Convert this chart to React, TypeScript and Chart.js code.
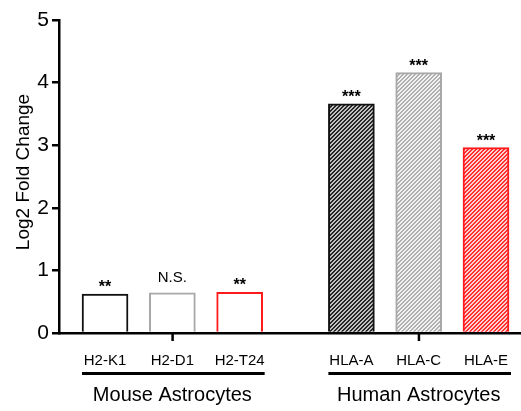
import React, { useEffect, useRef } from "react";
import { Chart, registerables } from "chart.js";

Chart.register(...registerables);

// ---- data ----
const categories = ["H2-K1", "H2-D1", "H2-T24", "HLA-A", "HLA-C", "HLA-E"];
const log2FoldChange = [0.62, 0.64, 0.65, 3.66, 4.16, 2.96];
const significance = ["**", "N.S.", "**", "***", "***", "***"];
const xPositions = [1, 2, 3, 4.66, 5.66, 6.66];
const groups = ["Mouse Astrocytes", "Human Astrocytes"];
const groupMembers = [[0, 1, 2], [3, 4, 5]];
const yTicks = [0, 1, 2, 3, 4, 5];

const FONT = "'Liberation Sans', Arial, sans-serif";

function makePattern(bg: string, fg: string): CanvasPattern | string {
  const c = document.createElement("canvas");
  c.width = 4;
  c.height = 4;
  const ctx = c.getContext("2d");
  if (!ctx) return bg;
  for (let x = 0; x < 4; x++) {
    for (let y = 0; y < 4; y++) {
      ctx.fillStyle = (x + y) % 4 < 2 ? fg : bg;
      ctx.fillRect(x, y, 1, 1);
    }
  }
  return ctx.createPattern(c, "repeat") || bg;
}

export default function App() {
  const ref = useRef<HTMLCanvasElement | null>(null);

  useEffect(() => {
    if (!ref.current) return;
    const fills = [
      "#ffffff",
      "#ffffff",
      "#ffffff",
      makePattern("#c0c0c0", "#262626"),
      makePattern("#f2f2f2", "#b0b0b0"),
      makePattern("#ffd0d0", "#ff3030"),
    ];
    const borders = ["#111111", "#a8a8a8", "#ff1a1a", "#111111", "#a8a8a8", "#ff1a1a"];

    const overlay = {
      id: "overlay",
      afterDraw(chart: any) {
        const ctx = chart.ctx;
        const xs = chart.scales.x;
        const ys = chart.scales.y;
        const area = chart.chartArea;
        ctx.save();
        ctx.fillStyle = "#000";
        ctx.textAlign = "center";
        ctx.textBaseline = "alphabetic";
        // significance labels
        log2FoldChange.forEach((v, i) => {
          const px = xs.getPixelForValue(xPositions[i]);
          const py = ys.getPixelForValue(v);
          const s = significance[i];
          if (s.startsWith("*")) {
            ctx.font = `bold 16px ${FONT}`;
            ctx.fillText(s, px, py - 2);
          } else {
            ctx.font = `15px ${FONT}`;
            ctx.fillText(s, px, py - 11);
          }
        });
        // group ticks, underline and labels
        groupMembers.forEach((members, g) => {
          const first = xs.getPixelForValue(xPositions[members[0]]);
          const last = xs.getPixelForValue(xPositions[members[members.length - 1]]);
          const mid = xs.getPixelForValue(xPositions[members[Math.floor(members.length / 2)]]);
          ctx.fillRect(mid - 1, area.bottom, 2.5, 8);
          ctx.fillRect(first - 23, area.bottom + 39, last - first + 48, 3);
          ctx.font = `20px ${FONT}`;
          ctx.textBaseline = "middle";
          ctx.fillText(groups[g], mid, area.bottom + 62);
          ctx.textBaseline = "alphabetic";
        });
        // y title
        ctx.translate(24, 172);
        ctx.rotate(-Math.PI / 2);
        ctx.font = `19px ${FONT}`;
        ctx.textBaseline = "middle";
        ctx.fillText("Log2 Fold Change", 0, 0);
        ctx.restore();
      },
    };

    const chart = new Chart(ref.current, {
      type: "bar",
      data: {
        datasets: [
          {
            data: log2FoldChange.map((v, i) => ({ x: xPositions[i], y: v })),
            backgroundColor: fills as any,
            borderColor: borders,
            borderWidth: 2,
            barThickness: 46,
          },
        ],
      },
      options: {
        responsive: false,
        animation: false,
        layout: { padding: { top: 20, right: 0, left: 0, bottom: 0 } },
        plugins: { legend: { display: false }, tooltip: { enabled: false } },
        scales: {
          x: {
            type: "linear",
            offset: false,
            min: 0.316,
            max: 7.18,
            grid: { display: false },
            border: { display: true, color: "#000", width: 2.5 },
            afterBuildTicks: (scale: any) => {
              scale.ticks = xPositions.map((v) => ({ value: v }));
            },
            afterFit: (scale: any) => {
              scale.height = 78;
            },
            ticks: {
              autoSkip: false,
              maxRotation: 0,
              padding: 11,
              color: "#000",
              font: { family: FONT, size: 15 },
              callback: (value: any) => {
                const idx = xPositions.indexOf(Number(value));
                return idx >= 0 ? categories[idx] : "";
              },
            },
          },
          y: {
            min: 0,
            max: 5,
            afterBuildTicks: (scale: any) => {
              scale.ticks = yTicks.map((v) => ({ value: v }));
            },
            afterFit: (scale: any) => {
              scale.width = 59;
            },
            grid: {
              display: true,
              drawOnChartArea: false,
              drawTicks: true,
              tickLength: 7,
              color: "#000",
              lineWidth: 2.5,
            },
            border: { display: true, color: "#000", width: 2.5 },
            ticks: {
              padding: 3,
              color: "#000",
              font: { family: FONT, size: 21 },
            },
          },
        },
      },
      plugins: [overlay],
    });
    return () => chart.destroy();
  }, []);

  return (
    <div style={{ position: "absolute", left: 0, top: 0, width: 521, height: 411, background: "#fff" }}>
      <canvas ref={ref} width={521} height={411} />
    </div>
  );
}
